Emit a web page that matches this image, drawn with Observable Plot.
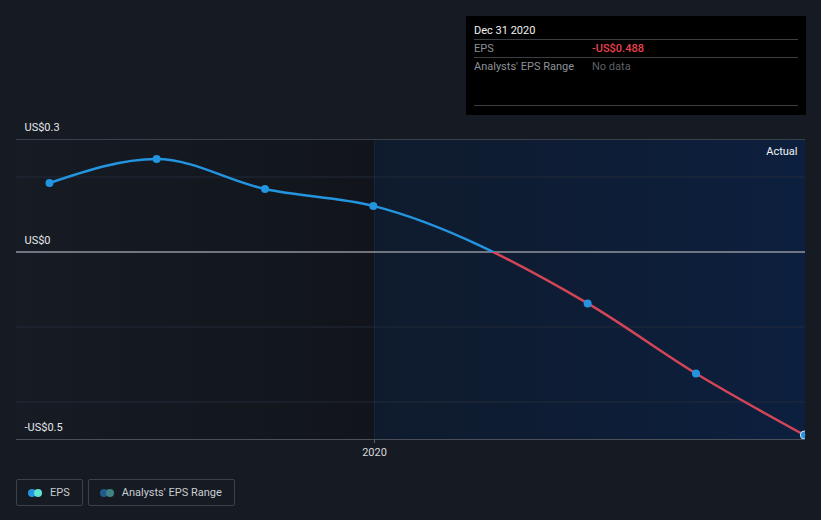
<!DOCTYPE html>
<html>
<head>
<meta charset="utf-8">
<script src="https://cdn.jsdelivr.net/npm/d3@7"></script>
<script src="https://cdn.jsdelivr.net/npm/@observablehq/plot@0.6"></script>
<style>
  html, body { margin: 0; padding: 0; background: #151a23; }
  #wrap { position: relative; width: 821px; height: 520px; overflow: hidden; font-family: Roboto, "Noto Sans", sans-serif; }
  #wrap svg { display: block; }
  .tip { position: absolute; left: 466px; top: 16px; width: 340px; height: 99px; background: #000; box-sizing: border-box; padding: 0 8px; font-size: 11px; }
  .tip .row { display: flex; height: 17px; line-height: 17px; border-bottom: 1px solid #3b3e43; }
  .tip .row span:first-child { width: 118px; }
  .tip .head { color: #f2f2f2; height: 23px; line-height: 30px; }
  .tip .lab { color: #8d9198; }
  .tip .neg { color: #e8434f; font-weight: 500; }
  .tip .nd { color: #5c6066; }
  .tip .spacer { position: absolute; left: 8px; right: 8px; top: 89px; border-bottom: 1px solid #3b3e43; }
  .legend { position: absolute; top: 479px; left: 16px; display: flex; gap: 5px; }
  .legend .item { box-sizing: border-box; height: 27px; border: 1px solid #3c4049; border-radius: 2px; display: flex; align-items: center; padding: 0 12px 0 11px; color: #c8ccd1; font-size: 11px; }
  .legend .dots { position: relative; width: 14px; height: 8px; margin-right: 8px; }
  .legend .dots i { position: absolute; top: 0; width: 8px; height: 8px; border-radius: 50%; }
</style>
</head>
<body>
<div id="wrap">
  <div id="chart"></div>
  <div class="tip">
    <div class="row head"><span>Dec 31 2020</span></div>
    <div class="row"><span class="lab">EPS</span><span class="neg">-US$0.488</span></div>
    <div class="row" style="border-bottom:none"><span class="lab">Analysts' EPS Range</span><span class="nd">No data</span></div>
    <div class="spacer"></div>
  </div>
  <div class="legend">
    <div class="item"><div class="dots"><i style="left:0;background:#2394df"></i><i style="left:6px;background:#5fe3d3"></i></div>EPS</div>
    <div class="item"><div class="dots"><i style="left:0;background:#1f5c8c"></i><i style="left:6px;background:#3f8384"></i></div>Analysts' EPS Range</div>
  </div>
</div>
<script>
// ---- data ----
const dates = ["2019-03-31", "2019-06-30", "2019-09-30", "2019-12-31", "2020-06-30", "2020-09-30", "2020-12-31"];
const eps = [0.184, 0.248, 0.168, 0.123, -0.137, -0.324, -0.488];
const yTickValues = [0.3, 0, -0.5];
const yTickLabels = ["US$0.3", "US$0", "-US$0.5"];
const gridValues = [0.2, -0.2, -0.4];
const xDomain = ["2019-03-03", "2021-01-01"];
const actualStart = "2020-01-01";
const xTicks = ["2020-01-01"];

const parse = d3.utcParse("%Y-%m-%d");
const data = dates.map((d, i) => ({date: parse(d), eps: eps[i]}));
const dStart = parse(xDomain[0]), dEnd = parse(xDomain[1]), dAct = parse(actualStart);
const yTicks = yTickValues.map((v, i) => ({v, label: yTickLabels[i]}));

const W = 821, H = 470;
const chart = Plot.plot({
  width: W, height: H,
  marginLeft: 16, marginRight: 16, marginTop: 139, marginBottom: 31,
  style: {background: "transparent", color: "#d5d8dc", fontFamily: "Roboto, 'Noto Sans', sans-serif", fontSize: "11px"},
  x: {type: "utc", domain: [dStart, dEnd], ticks: xTicks.map(parse), tickFormat: "%Y", tickSize: 4, tickPadding: 5, label: null},
  y: {domain: [-0.5, 0.3], axis: null},
  marks: [
    Plot.rect([{x1: dStart, x2: dAct}], {x1: "x1", x2: "x2", y1: -0.5, y2: 0.3, fill: "url(#gradPast)"}),
    Plot.rect([{x1: dAct, x2: dEnd}], {x1: "x1", x2: "x2", y1: -0.5, y2: 0.3, fill: "url(#gradActual)"}),
    Plot.ruleX([dAct], {stroke: "#18263d", strokeWidth: 1}),
    Plot.ruleY(gridValues, {stroke: "#232b38", strokeWidth: 1}),
    Plot.ruleY([0.3], {stroke: "#3b414b", strokeWidth: 1}),
    Plot.ruleY([-0.5], {stroke: "#4a4f58", strokeWidth: 1}),
    Plot.ruleY([0], {stroke: "#8f959e", strokeWidth: 1.5}),
    Plot.line(data, {x: "date", y: "eps", curve: "monotone-x", stroke: "url(#gradLine)", strokeWidth: 2.5}),
    Plot.dot(data, {x: "date", y: "eps", r: 4, fill: "#2394df", stroke: (d, i) => i === data.length - 1 ? "#cfe6f7" : "none", strokeWidth: 1, clip: true}),
    Plot.text(yTicks, {y: "v", text: "label", frameAnchor: "left", dx: 8, dy: -12, textAnchor: "start", fill: "#e6e8eb", fontSize: 11}),
    Plot.text(["Actual"], {frameAnchor: "top-right", dx: -8, dy: 8, text: d => d, textAnchor: "end", fill: "#f2f4f6", fontSize: 11})
  ]
});

const y0 = chart.scale("y").apply(0);
const svg = d3.select(chart);
const defs = svg.insert("defs", ":first-child");
const gp = defs.append("linearGradient").attr("id", "gradPast").attr("x1", 0).attr("x2", 1).attr("y1", 0).attr("y2", 0);
gp.append("stop").attr("offset", 0).attr("stop-color", "#161b24");
gp.append("stop").attr("offset", 1).attr("stop-color", "#11151b");
const ga = defs.append("linearGradient").attr("id", "gradActual").attr("x1", 0).attr("x2", 1).attr("y1", 0).attr("y2", 0);
ga.append("stop").attr("offset", 0).attr("stop-color", "#0f1b2d");
ga.append("stop").attr("offset", 1).attr("stop-color", "#0c1f3e");
const gl = defs.append("linearGradient").attr("id", "gradLine").attr("gradientUnits", "userSpaceOnUse")
  .attr("x1", 0).attr("x2", 0).attr("y1", 0).attr("y2", H);
gl.append("stop").attr("offset", y0 / H).attr("stop-color", "#2394df");
gl.append("stop").attr("offset", y0 / H).attr("stop-color", "#d24557");
svg.selectAll("g[aria-label='x-axis tick'] path, g[aria-label='x-axis'] path").attr("stroke", "#5a6069");

document.getElementById("chart").appendChild(chart);
</script>
</body>
</html>
